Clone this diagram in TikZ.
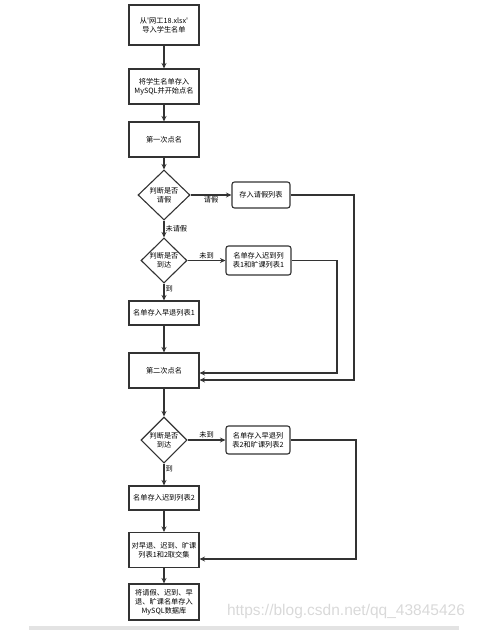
\documentclass[tikz,border=0pt]{standalone}
\usepackage{fontspec}
\setmainfont{Liberation Sans}
\newfontfamily\cjkfont{Noto Sans CJK SC}
\usepackage{tikz}
\usetikzlibrary{shapes.geometric,arrows.meta}

\definecolor{linegray}{HTML}{333333}
\definecolor{markgray}{HTML}{D9D9D9}
\definecolor{bargray}{HTML}{E3E3E3}

\tikzset{
  flowbox/.style={draw=linegray, line width=1.1pt, rectangle, minimum width=70pt,
    align=center, inner sep=1pt, font=\cjkfont\fontsize{7.2}{9}\selectfont},
  listbox/.style={flowbox, rounded corners=2.5pt},
  choice/.style={draw=linegray, line width=1.1pt, diamond, inner sep=0pt,
    align=center, font=\cjkfont\fontsize{7.2}{9}\selectfont},
  flow/.style={draw=linegray, line width=1.1pt, -{Stealth[length=5.5pt,width=5pt]}},
  tag/.style={inner sep=1pt, font=\cjkfont\fontsize{7.2}{9}\selectfont}
}

\begin{document}
\begin{tikzpicture}[x=1pt, y=-1pt]

    \useasboundingbox (0,0) rectangle (477,630);

    % Main column
    \node[flowbox, minimum height=40pt] (load) at (164,25) {从'网工18.xlsx'\\导入学生名单};
    \node[flowbox, minimum height=35pt] (store) at (164,86.5) {将学生名单存入\\MySQL并开始点名};
    \node[flowbox, minimum height=35pt] (call1) at (164,139.5) {第一次点名};
    \node[choice, minimum width=52pt, minimum height=50pt] (leave) at (164,195) {判断是否\\请假};
    \node[choice, minimum width=46pt, minimum height=45pt] (arrive1) at (164,260.5) {判断是否\\到达};
    \node[flowbox, minimum height=24pt] (early1) at (164,313) {名单存入早退列表1};
    \node[flowbox, minimum height=35pt] (call2) at (164,370.5) {第二次点名};
    \node[choice, minimum width=46pt, minimum height=46pt] (arrive2) at (164,440) {判断是否\\到达};
    \node[flowbox, minimum height=24pt] (late2) at (164,498) {名单存入迟到列表2};
    \node[flowbox, minimum height=35pt] (merge) at (164,550) {对早退、迟到、旷课\\列表1和2取交集};
    \node[flowbox, minimum height=36pt] (save) at (164,602) {将请假、迟到、早\\退、旷课名单存入\\MySQL数据库};

    % Side lists
    \node[listbox, minimum width=58pt, minimum height=26pt] (leavelist) at (261,195) {存入请假列表};
    \node[listbox, minimum width=65pt, minimum height=29pt] (absent1) at (258.5,260.5) {名单存入迟到列\\表1和旷课列表1};
    \node[listbox, minimum width=64pt, minimum height=28pt] (absent2) at (258,440) {名单存入早退列\\表2和旷课列表2};

    % Turning points of the return lines
    \coordinate (leaveturn) at (354,380);
    \coordinate (absent1turn) at (337,373);
    \coordinate (absent2turn) at (356,559);

    % Straight arrows
    \draw[flow] (load) -- (store);
    \draw[flow] (store) -- (call1);
    \draw[flow] (call1) -- (leave);
    \draw[flow] (leave) -- node[tag, right, pos=0.5] (notleave) {未请假} (arrive1);
    \draw[flow] (arrive1) -- node[tag, right, pos=0.3] (yes1) {到} (early1);
    \draw[flow] (early1) -- (call2);
    \draw[flow] (call2) -- (arrive2);
    \draw[flow] (arrive2) -- node[tag, right, pos=0.25] (yes2) {到} (late2);
    \draw[flow] (late2) -- (merge);
    \draw[flow] (merge) -- (save);

    % Branches to the side
    \draw[flow] (leave) -- node[tag, below] (isleave) {请假} (leavelist);
    \draw[flow] (arrive1) -- node[tag, above] (no1) {未到} (absent1);
    \draw[flow] (arrive2) -- node[tag, above] (no2) {未到} (absent2);

    % Back into the column
    \draw[flow] (leavelist.east) -| (leaveturn) -- (call2.east |- leaveturn);
    \draw[flow] (absent1.east) -| (absent1turn) -- (call2.east |- absent1turn);
    \draw[flow] (absent2.east) -| (absent2turn) -- (merge.east |- absent2turn);

    % Page marks
    \node[text=markgray, font=\fontsize{15.5}{18}\selectfont, inner sep=0pt] (watermark) at (346,611) {https://blog.csdn.net/qq\_43845426};
    \fill[bargray] (29,626) rectangle (459,630);
\end{tikzpicture}
\end{document}
